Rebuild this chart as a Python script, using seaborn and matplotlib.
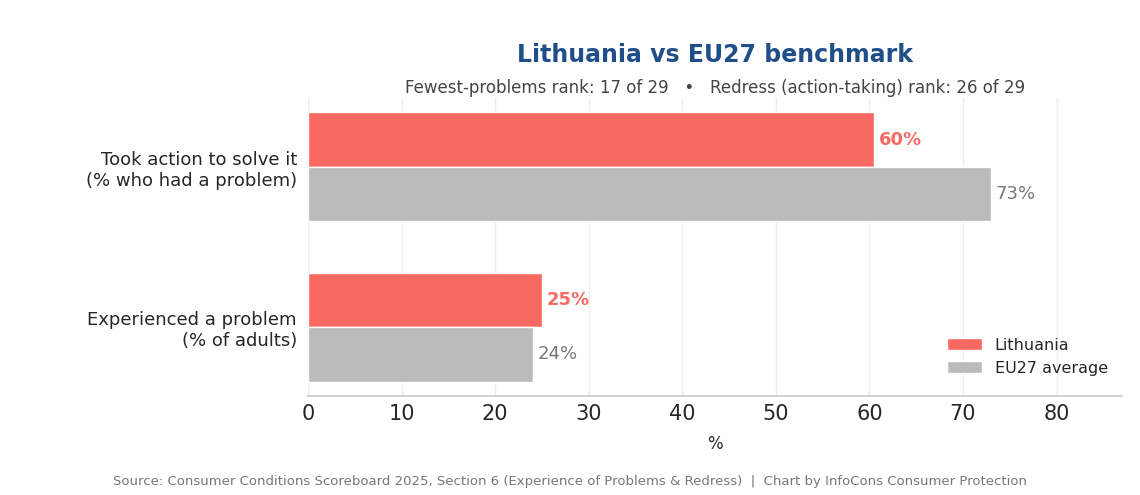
import matplotlib
matplotlib.use("Agg")
import matplotlib.pyplot as plt
import seaborn as sns
import pandas as pd

categories = ["Took action to solve it\n(% who had a problem)", "Experienced a problem\n(% of adults)"]
lithuania = [60.5, 25.0]
eu27 = [73.0, 24.0]
lith_labels = ["60%", "25%"]
eu_labels = ["73%", "24%"]
series = ["Lithuania", "EU27 average"]

df = pd.DataFrame({
    "cat": categories * 2,
    "val": lithuania + eu27,
    "series": [series[0]] * 2 + [series[1]] * 2,
})

sns.set_theme(style="white")
plt.rcParams['font.family'] = ['DejaVu Sans']
fig = plt.figure(figsize=(11.4, 4.95), dpi=100)
ax = fig.add_axes([308/1140, 1-396/495, (1122-308)/1140, (396-98)/495])
sns.barplot(data=df, y="cat", x="val", hue="series", orient="h", ax=ax,
            palette=["#f76961", "#bbbbbb"], width=0.68, saturation=1)
ax.set_xlim(0, 87)
ax.set_ylim(1.43, -0.43)
ax.set_xticks(range(0, 81, 10))
ax.tick_params(axis="x", labelsize=15, length=0, pad=6)
ax.tick_params(axis="y", labelsize=13, length=0, pad=8)
ax.set_ylabel("")
ax.set_xlabel("%", fontsize=12, labelpad=8)
ax.grid(axis="x", color="#eeeeee", linewidth=1)
ax.set_axisbelow(True)
for s in ["top", "right", "left"]:
    ax.spines[s].set_visible(False)
ax.spines["bottom"].set_color("#cccccc")

c0, c1 = ax.containers[0], ax.containers[1]
for bar, lab in zip(c0, lith_labels):
    ax.text(bar.get_width() + 0.5, bar.get_y() + bar.get_height()/2, lab,
            va="center", ha="left", color="#f76961", fontsize=13, fontweight="bold")
for bar, lab in zip(c1, eu_labels):
    ax.text(bar.get_width() + 0.5, bar.get_y() + bar.get_height()/2, lab,
            va="center", ha="left", color="#777777", fontsize=13)

ax.legend(loc="lower right", frameon=False, fontsize=11.5, handlelength=2.2,
          bbox_to_anchor=(1.0, 0.02))

fig.text(715/1140, 1-55/495, "Lithuania vs EU27 benchmark", ha="center", va="center",
         fontsize=17, fontweight="bold", color="#1f4e89")
fig.text(715/1140, 1-88/495,
         "Fewest-problems rank: 17 of 29   •   Redress (action-taking) rank: 26 of 29",
         ha="center", va="center", fontsize=12, color="#444444")
fig.text(570/1140, 1-482/495,
         "Source: Consumer Conditions Scoreboard 2025, Section 6 (Experience of Problems & Redress)  |  Chart by InfoCons Consumer Protection",
         ha="center", va="center", fontsize=9.5, color="#777777")
fig.savefig("out.png", dpi=100)
